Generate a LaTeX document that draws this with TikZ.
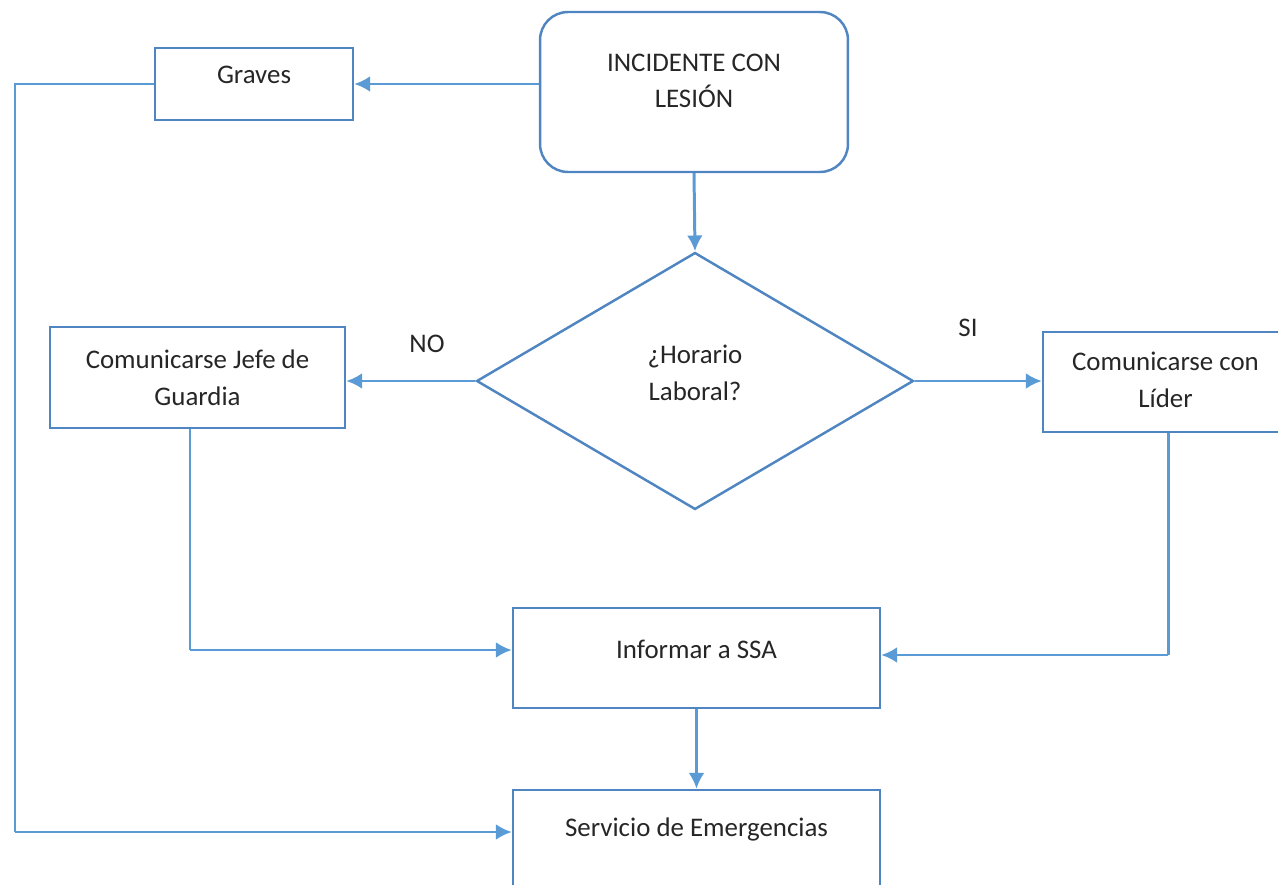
\documentclass[tikz,border=0pt]{standalone}
\usepackage{fontspec}
\setmainfont{Carlito}
\usetikzlibrary{shapes.geometric,arrows.meta}
\definecolor{boxblue}{HTML}{4F85C0}
\definecolor{lineblue}{HTML}{5B9BD5}
\definecolor{txt}{HTML}{262626}
\tikzset{
  procbox/.style={draw=boxblue, line width=1.4pt, rectangle, align=center, text=txt},
  startbox/.style={procbox, rounded corners=0.56cm},
  decbox/.style={procbox, diamond, inner sep=0pt},
  flow/.style={draw=lineblue, line width=1.7pt, ->, >={Latex[length=9pt,width=9pt]}},
  link/.style={draw=lineblue, line width=1.7pt},
  tag/.style={text=txt}
}
\begin{document}
\begin{tikzpicture}[x=0.02cm, y=-0.02cm, font=\fontsize{15.3}{21}\selectfont]
  \useasboundingbox (0,0) rectangle (1278,885);

  \node[startbox, minimum width=6.16cm, minimum height=3.2cm, text depth=0.45cm] (inc) at (694,92) {INCIDENTE CON\\LESIÓN};
  \node[procbox, minimum width=3.96cm, minimum height=1.44cm, text depth=0.38cm] (graves) at (254,84) {Graves};
  \node[decbox, minimum width=8.74cm, minimum height=5.14cm, text depth=0.32cm] (dec) at (695,381) {¿Horario\\Laboral?};
  \node[procbox, minimum width=5.9cm, minimum height=2.02cm] (jefe) at (197.5,377.5) {Comunicarse Jefe de\\Guardia};
  \node[procbox, minimum width=4.9cm, minimum height=2cm, text depth=0.1cm] (lider) at (1165.5,382) {Comunicarse con\\Líder};
  \node[procbox, minimum width=7.34cm, minimum height=2cm, text depth=0.35cm] (ssa) at (696.5,658) {Informar a SSA};
  \node[procbox, minimum width=7.34cm, minimum height=2cm, text depth=0.5cm] (serv) at (696.5,840) {Servicio de Emergencias};

  \node[tag] (no) at (427,344) {NO};
  \node[tag] (si) at (968,328) {SI};

  \coordinate (lft) at (15,832);
  \coordinate (jefedn) at (190,650);
  \coordinate (liderdn) at (1168,655);

  \draw[flow] (graves.east -| inc.west) -- (graves.east);
  \draw[link] (graves.west) -| (lft);
  \draw[flow] (lft) -- (lft -| serv.west);
  \draw[flow] (inc.south) -- (dec.north);
  \draw[flow] (dec.west) -- (dec.west -| jefe.east);
  \draw[flow] (dec.east) -- (dec.east -| lider.west);
  \draw[link] (jefedn |- jefe.south) -- (jefedn);
  \draw[flow] (jefedn) -- (jefedn -| ssa.west);
  \draw[link] (liderdn |- lider.south) -- (liderdn);
  \draw[flow] (liderdn) -- (liderdn -| ssa.east);
  \draw[flow] (ssa.south) -- (serv.north);
\end{tikzpicture}
\end{document}
